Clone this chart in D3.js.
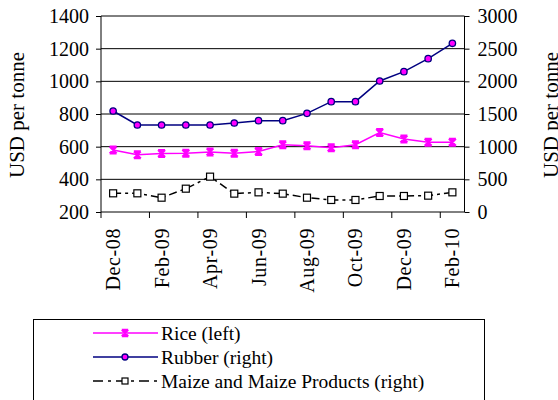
<!DOCTYPE html>
<html><head><meta charset="utf-8">
<script src="https://cdn.jsdelivr.net/npm/d3@7"></script>
<style>body{margin:0;background:#fff}svg{display:block}</style>
</head><body><svg id="c" width="558" height="400"></svg>
<script>
const months = ["Dec-08","Jan-09","Feb-09","Mar-09","Apr-09","May-09","Jun-09","Jul-09","Aug-09","Sep-09","Oct-09","Nov-09","Dec-09","Jan-10","Feb-10"];
const rice = [580,550,558,560,568,560,570,612,605,593,612,686,647,627,627];
const rubber = [1546,1332,1332,1332,1332,1362,1398,1398,1510,1689,1689,2005,2148,2347,2582];
const maize = [286,286,219,357,541,281,301,281,219,184,184,245,245,250,301];
const leftTicks = [200,400,600,800,1000,1200,1400];
const rightTicks = [0,500,1000,1500,2000,2500,3000];
const seriesNames = ["Rice (left)","Rubber (right)","Maize and Maize Products (right)"];

const FONT = '"Liberation Serif"';
const svg = d3.select("#c");
const L = 101, R = 464.5, T = 16, B = 212;
const x = d3.scaleBand().domain(months).range([L, R]);
const yL = d3.scaleLinear().domain([200,1400]).range([B, T]);
const yR = d3.scaleLinear().domain([0,3000]).range([B, T]);
const cx = d => x(d) + x.bandwidth()/2;

svg.append("g").selectAll("line").data(leftTicks.filter(v=>v>200)).join("line")
  .attr("x1",L).attr("x2",R).attr("y1",d=>yL(d)).attr("y2",d=>yL(d))
  .attr("stroke","#000").attr("stroke-width",1);

const gL = svg.append("g").attr("transform",`translate(${L},0)`)
  .call(d3.axisLeft(yL).tickValues(leftTicks).tickFormat(d3.format("d")).tickSize(5).tickPadding(7));
const gR = svg.append("g").attr("transform",`translate(${R},0)`)
  .call(d3.axisRight(yR).tickValues(rightTicks).tickFormat(d3.format("d")).tickSize(5).tickPadding(8));
[gL,gR].forEach(g=>{
  g.select(".domain").attr("stroke","#000").attr("d", `M0,${T}V${B}`);
  g.selectAll(".tick line").attr("stroke","#000");
  g.selectAll("text").attr("fill","#000").style("font-family",FONT).style("font-size","20px");
});

const gB = svg.append("g").attr("transform",`translate(0,${B})`);
gB.append("line").attr("x1",L).attr("x2",R).attr("stroke","#000");
const tickIdx = months.map((m,i)=>i).filter(i=>i%2===0);
gB.selectAll("line.t").data(tickIdx).join("line").attr("class","t")
  .attr("x1",i=>x(months[i])).attr("x2",i=>x(months[i]))
  .attr("y1",0).attr("y2",6).attr("stroke","#000");
gB.selectAll("text").data(tickIdx).join("text")
  .attr("transform",i=>`translate(${cx(months[i])+7},${16}) rotate(-90)`)
  .attr("text-anchor","end").style("font-family",FONT).style("font-size","20px")
  .style("letter-spacing","0.6px").text(i=>months[i]);

svg.append("text").attr("transform","translate(24,115) rotate(-90)").attr("text-anchor","middle")
  .style("font-family",FONT).style("font-size","21px").text("USD per tonne");
svg.append("text").attr("transform","translate(558,115) rotate(-90)").attr("text-anchor","middle")
  .style("font-family",FONT).style("font-size","21px").text("USD per tonne");

const lineOf = (y) => d3.line().x((d,i)=>cx(months[i])).y(d=>y(d));
svg.append("path").datum(maize).attr("d",lineOf(yR)).attr("fill","none")
  .attr("stroke","#000").attr("stroke-width",1.5).attr("stroke-dasharray","8,4,3,4");
svg.append("path").datum(rice).attr("d",lineOf(yL)).attr("fill","none")
  .attr("stroke","#ff00ff").attr("stroke-width",1.5);
svg.append("path").datum(rubber).attr("d",lineOf(yR)).attr("fill","none")
  .attr("stroke","#000080").attr("stroke-width",1.5);

function asterisk(g, px, py, s){
  g.append("path").attr("d",`M${px-s},${py-s}L${px+s},${py+s}M${px-s},${py+s}L${px+s},${py-s}M${px},${py-s-0.5}L${px},${py+s+0.5}M${px-s},${py-s}L${px+s},${py-s}M${px-s},${py+s}L${px+s},${py+s}`)
   .attr("stroke","#ff00ff").attr("stroke-width",2).attr("fill","none");
}
const gm = svg.append("g");
maize.forEach((v,i)=>gm.append("rect").attr("x",cx(months[i])-3.5).attr("y",yR(v)-3.5).attr("width",7).attr("height",7)
  .attr("fill","#fff").attr("stroke","#000").attr("stroke-width",1.2));
rice.forEach((v,i)=>asterisk(gm, cx(months[i]), yL(v), 3.5));
rubber.forEach((v,i)=>gm.append("circle").attr("cx",cx(months[i])).attr("cy",yR(v)).attr("r",3.2)
  .attr("fill","#ff00ff").attr("stroke","#000080").attr("stroke-width",1.3));

const lg = svg.append("g");
lg.append("rect").attr("x",33.5).attr("y",319.5).attr("width",451).attr("height",100).attr("fill","none").attr("stroke","#000");
const ly = [333,357,381];
const x0 = 93, x1 = 158, xm = 125;
lg.append("line").attr("x1",x0).attr("x2",x1).attr("y1",ly[0]).attr("y2",ly[0]).attr("stroke","#ff00ff").attr("stroke-width",1.5);
asterisk(lg, xm, ly[0], 3.2);
lg.append("line").attr("x1",x0).attr("x2",x1).attr("y1",ly[1]).attr("y2",ly[1]).attr("stroke","#000080").attr("stroke-width",1.5);
lg.append("circle").attr("cx",xm).attr("cy",ly[1]).attr("r",3).attr("fill","#ff00ff").attr("stroke","#000080").attr("stroke-width",1.3);
lg.append("line").attr("x1",x0).attr("x2",x1).attr("y1",ly[2]).attr("y2",ly[2]).attr("stroke","#000").attr("stroke-width",1.5).attr("stroke-dasharray","10,5,3,5");
lg.append("rect").attr("x",xm-3).attr("y",ly[2]-3).attr("width",6).attr("height",6).attr("fill","#fff").attr("stroke","#000").attr("stroke-width",1.2);
lg.selectAll("text").data(seriesNames).join("text").attr("x",161).attr("y",(d,i)=>ly[i]+7)
  .style("font-family",FONT).style("font-size","19.5px").text(d=>d);
</script></body></html>
